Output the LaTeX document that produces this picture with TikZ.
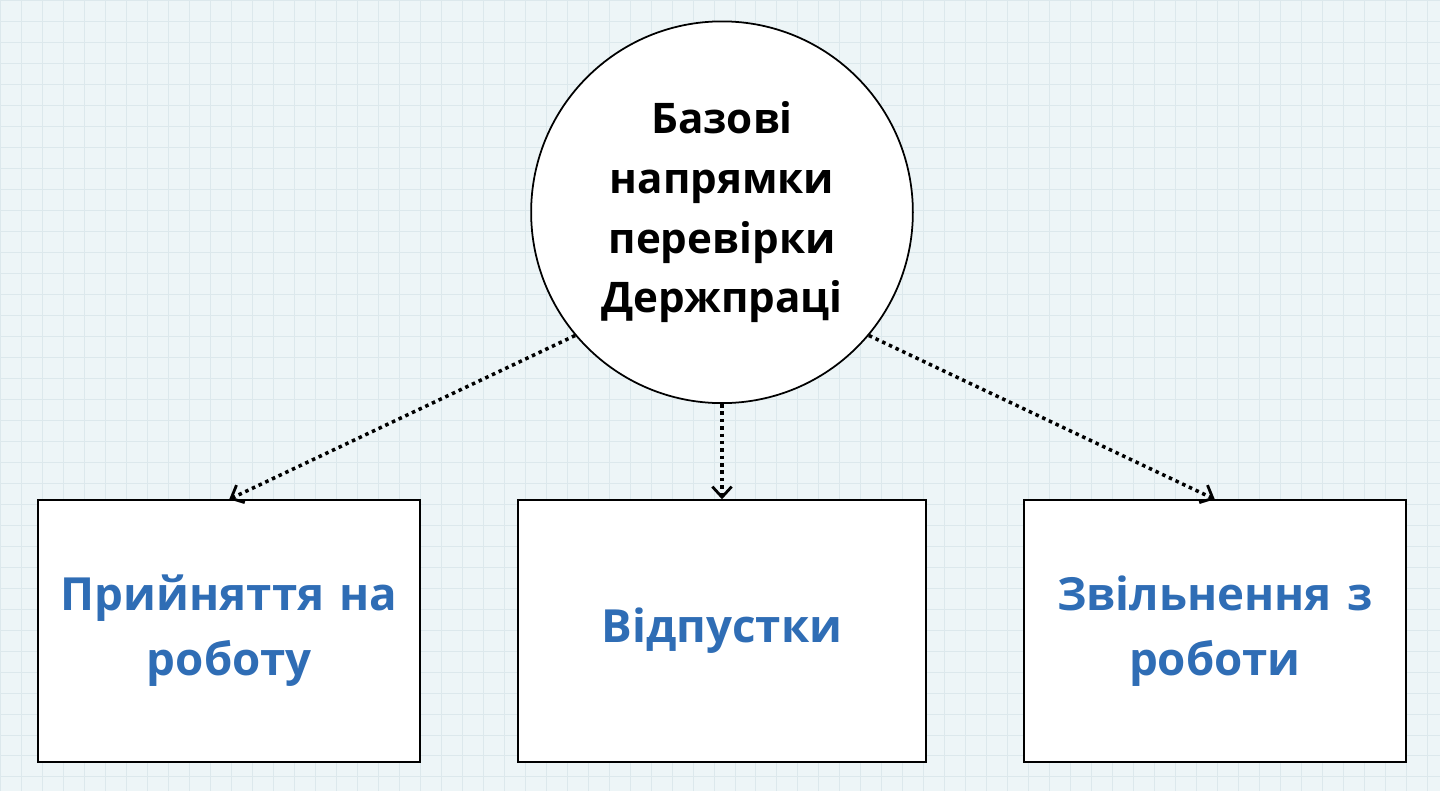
\documentclass[tikz,border=0pt]{standalone}
\usepackage{fontspec}
\setmainfont{Open Sans}
\usetikzlibrary{arrows.meta}
\definecolor{bgcol}{HTML}{EDF5F7}
\definecolor{gridcol}{HTML}{DCE8EC}
\definecolor{txtblue}{HTML}{2F6DB5}
\tikzset{
  topic/.style={draw,line width=1pt,fill=white,minimum width=7.64cm,minimum height=5.24cm,text width=7.4cm,align=center,font=\fontsize{26}{37}\selectfont\bfseries,text=txtblue},
  link/.style={line width=2pt,dash pattern=on 2pt off 2.2pt,-{Straight Barb[length=6pt,width=11pt,line width=1.6pt]}}
}
\begin{document}
\begin{tikzpicture}[x=0.02cm,y=-0.02cm]
  \fill[bgcol] (0,0) rectangle (1440,791);
  \draw[gridcol,step=0.42cm] (0,0) grid (1440,791);
  \useasboundingbox (0,0) rectangle (1440,791);
  \node[circle,draw,line width=1pt,fill=white,minimum size=7.64cm,align=center,font=\fontsize{24}{34}\selectfont\bfseries] at (722,212)(main){Базові\\напрямки\\перевірки\\Держпраці};
  \node[topic] at (229,631)(hire){Прийняття на\\роботу};
  \node[topic,minimum width=8.18cm] at (722,631)(leave){Відпустки};
  \node[topic] at (1215,631)(fire){Звільнення з\\роботи};
  \draw[link] (main.-140) -- (hire.north);
  \draw[link] (main.south) -- (leave.north);
  \draw[link] (main.-40) -- (fire.north);
\end{tikzpicture}
\end{document}
